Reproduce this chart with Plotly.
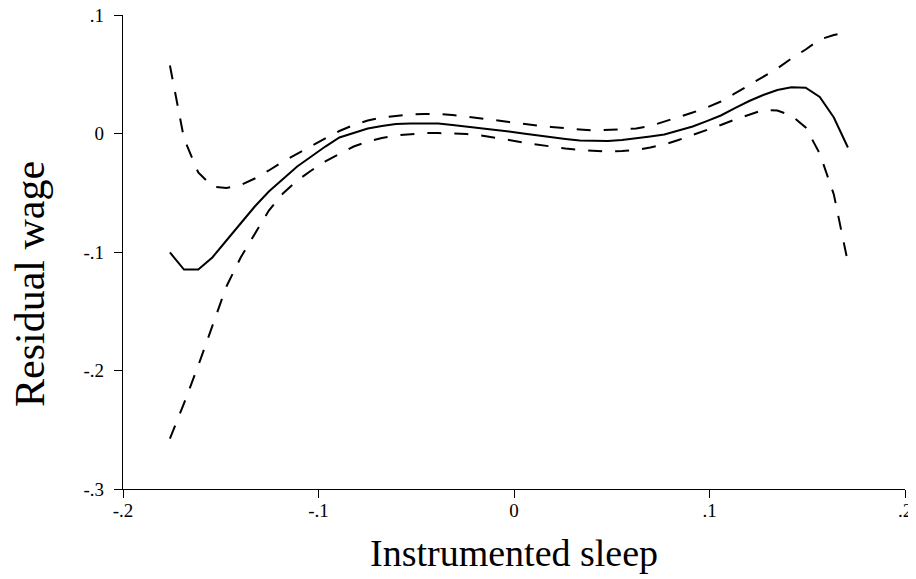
import plotly.graph_objects as go

x_sleep = [-0.1760, -0.1688, -0.1615, -0.1543, -0.1471, -0.1398, -0.1326, -0.1254, -0.1182, -0.1109,
           -0.1037, -0.0965, -0.0893, -0.0820, -0.0748, -0.0676, -0.0604, -0.0531, -0.0459, -0.0387,
           -0.0315, -0.0242, -0.0170, -0.0098, -0.0026, 0.0047, 0.0119, 0.0191, 0.0263, 0.0336,
           0.0408, 0.0480, 0.0552, 0.0625, 0.0697, 0.0769, 0.0841, 0.0914, 0.0986, 0.1058,
           0.1130, 0.1203, 0.1275, 0.1347, 0.1419, 0.1492, 0.1564, 0.1636, 0.1708]

fit = [-0.1004, -0.1148, -0.1148, -0.1046, -0.0903, -0.0759, -0.0616, -0.0489, -0.0380, -0.0278,
       -0.0194, -0.0110, -0.0034, 0.0004, 0.0042, 0.0063, 0.0080, 0.0084, 0.0087, 0.0084,
       0.0072, 0.0059, 0.0046, 0.0034, 0.0017, 0.0000, -0.0017, -0.0034, -0.0046, -0.0059,
       -0.0063, -0.0063, -0.0055, -0.0042, -0.0025, -0.0008, 0.0025, 0.0059, 0.0105, 0.0152,
       0.0215, 0.0274, 0.0325, 0.0367, 0.0390, 0.0386, 0.0308, 0.0135, -0.0118]

upper = [0.0574, -0.0042, -0.0329, -0.0447, -0.0460, -0.0435, -0.0380, -0.0312, -0.0236, -0.0169,
         -0.0110, -0.0042, 0.0021, 0.0072, 0.0110, 0.0135, 0.0148, 0.0160, 0.0165, 0.0165,
         0.0156, 0.0143, 0.0131, 0.0114, 0.0097, 0.0080, 0.0068, 0.0055, 0.0042, 0.0034,
         0.0025, 0.0030, 0.0034, 0.0042, 0.0063, 0.0101, 0.0135, 0.0177, 0.0219, 0.0270,
         0.0338, 0.0409, 0.0477, 0.0549, 0.0633, 0.0709, 0.0793, 0.0831, 0.0857]

lower = [-0.2574, -0.2278, -0.1958, -0.1620, -0.1291, -0.1046, -0.0844, -0.0650, -0.0506, -0.0397,
         -0.0312, -0.0236, -0.0173, -0.0110, -0.0068, -0.0038, -0.0017, -0.0004, 0.0004, 0.0004,
         0.0000, -0.0004, -0.0017, -0.0034, -0.0055, -0.0076, -0.0093, -0.0114, -0.0127, -0.0139,
         -0.0148, -0.0152, -0.0148, -0.0139, -0.0118, -0.0093, -0.0055, -0.0013, 0.0025, 0.0072,
         0.0118, 0.0160, 0.0198, 0.0194, 0.0152, 0.0051, -0.0169, -0.0515, -0.1089]

x_ticks = [-0.2, -0.1, 0, 0.1, 0.2]
x_tick_labels = ["-.2", "-.1", "0", ".1", ".2"]
y_ticks = [-0.3, -0.2, -0.1, 0, 0.1]
y_tick_labels = ["-.3", "-.2", "-.1", "0", ".1"]

FONT = "Liberation Serif"

fig = go.Figure()
fig.add_trace(go.Scatter(x=x_sleep, y=upper, mode="lines",
                         line=dict(color="black", width=2, dash="14px,13px"), showlegend=False))
fig.add_trace(go.Scatter(x=x_sleep, y=lower, mode="lines",
                         line=dict(color="black", width=2, dash="14px,13px"), showlegend=False))
fig.add_trace(go.Scatter(x=x_sleep, y=fit, mode="lines",
                         line=dict(color="black", width=2), showlegend=False))
# invisible carrier trace for the label-only x axis
fig.add_trace(go.Scatter(x=x_sleep, y=fit, xaxis="x2", mode="lines", opacity=0,
                         line=dict(width=0), hoverinfo="skip", showlegend=False))

# page body has an 8px default margin, so the figure is sized/padded to compensate
fig.update_layout(
    width=908, height=571,
    margin=dict(l=115, r=11, t=7, b=90, autoexpand=False),
    paper_bgcolor="white", plot_bgcolor="white",
    font=dict(family=FONT, color="black"),
    xaxis2=dict(overlaying="x", matches="x", anchor="y", side="bottom", range=[-0.2, 0.2],
                tickvals=x_ticks, ticktext=x_tick_labels, automargin=False,
                showgrid=False, zeroline=False, showline=False, ticks="",
                tickfont=dict(family=FONT, size=19), ticklabelstandoff=8,
                ticklabeloverflow="allow"),
)
fig.layout.xaxis.update(range=[-0.2, 0.2], tickvals=x_ticks, showticklabels=False, automargin=False,
                        showgrid=False, zeroline=False, showline=True, linecolor="black", linewidth=1.3,
                        ticks="outside", ticklen=8, tickwidth=1.3, tickcolor="black")
fig.update_yaxes(range=[-0.3, 0.1], tickvals=y_ticks, ticktext=y_tick_labels, automargin=False,
                 showgrid=False, zeroline=False, showline=True, linecolor="black", linewidth=1.3,
                 ticks="outside", ticklen=8, tickwidth=1.3, tickcolor="black",
                 tickfont=dict(family=FONT, size=19), ticklabelstandoff=6,
                 ticklabeloverflow="allow")

fig.add_annotation(text="Instrumented sleep", xref="paper", yref="paper", x=0.5, y=0,
                   yshift=-64, yanchor="middle", xanchor="center", showarrow=False,
                   font=dict(family=FONT, size=38))
fig.add_annotation(text="Residual wage", xref="paper", yref="paper", x=0, y=0.5,
                   xshift=-93, yshift=-32, xanchor="center", yanchor="middle", textangle=-90,
                   showarrow=False, font=dict(family=FONT, size=42))

fig.write_html("out.html")
